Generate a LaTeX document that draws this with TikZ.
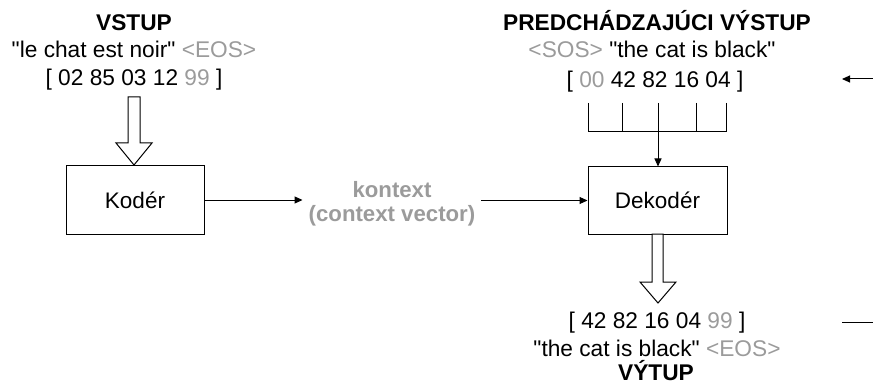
\documentclass[tikz,border=0pt]{standalone}
\usepackage{fontspec}
\setmainfont{Liberation Sans}[Ligatures=TeXOff]
\usetikzlibrary{arrows.meta,calc}
\definecolor{tokgray}{RGB}{155,155,155}
\tikzset{
  lbl/.style={inner sep=0pt, anchor=base, font=\fontsize{22.7}{26}\selectfont},
  block/.style={draw, line width=1pt, inner sep=0pt, font=\fontsize{22.5}{26}\selectfont},
  conn/.style={line width=1pt, -{Triangle[length=8pt,width=7pt]}},
  hollow/.style={draw, line width=1pt, fill=white, line join=miter},
  wire/.style={line width=1pt}
}
\begin{document}
\begin{tikzpicture}[x=1pt,y=-1pt]
\useasboundingbox (0,0) rectangle (873,385);

% encoder input
\node[lbl] (in1) at (134,31) {\bfseries VSTUP};
\node[lbl] (in2) at (134,58) {"le chat est noir" \textcolor{tokgray}{<EOS>}};
\node[lbl] (in3) at (134,86) {[ 02 85 03 12 \textcolor{tokgray}{99} ]};

% decoder input (previous output)
\node[lbl] (pv1) at (657,31) {\bfseries PREDCHÁDZAJÚCI VÝSTUP};
\node[lbl] (pv2) at (652,58) {\textcolor{tokgray}{<SOS>} "the cat is black"};
\node[lbl] (pv3) at (655,88) {[ \textcolor{tokgray}{00} 42 82 16 04 ]};

% decoder output
\node[lbl] (out1) at (657,328.5) {[ 42 82 16 04 \textcolor{tokgray}{99} ]};
\node[lbl] (out2) at (657,356) {"the cat is black" \textcolor{tokgray}{<EOS>}};
\node[lbl] (out3) at (656,380.5) {\bfseries VÝTUP};

% blocks
\node[block, minimum width=138pt, minimum height=68pt] (enc) at (135,200) {Kodér};
\node[block, minimum width=139pt, minimum height=67pt] (dec) at (657.5,200.5) {Dekodér};

% context vector
\node[inner sep=6pt, align=center, text=tokgray, font=\fontsize{22.2}{24}\selectfont\bfseries] (ctx) at (392,204) {kontext\\(context vector)};

\draw[conn] (enc.east) -- (enc.east -| ctx.west);
\draw[conn] (ctx.east |- dec.west) -- (dec.west);

% hollow block arrows
\draw[hollow] (128,97) -- (128,143) -- (116,143) -- (134,165) -- (152,143) -- (140,143) -- (140,97) -- cycle;
\draw[hollow] (652,234) -- (652,282) -- (640,282) -- (658,303) -- (676,282) -- (663,282) -- (663,234) -- cycle;

% token comb feeding the decoder
\coordinate (cb) at (658,132);
\foreach \cx in {588,622,658,696,726} \draw[wire] (\cx,103) -- (\cx,132);
\draw[wire] (588,132) -- (726,132);
\draw[conn] (cb) -- (cb |- dec.north);

% feedback ends at the right edge
\coordinate (fbin) at (873,79);
\coordinate (fbinend) at (842,79);
\draw[conn] (fbin) -- (fbinend);
\coordinate (fbout) at (842,322.5);
\coordinate (fboutend) at (873,322.5);
\draw[wire] (fbout) -- (fboutend);
\end{tikzpicture}
\end{document}
